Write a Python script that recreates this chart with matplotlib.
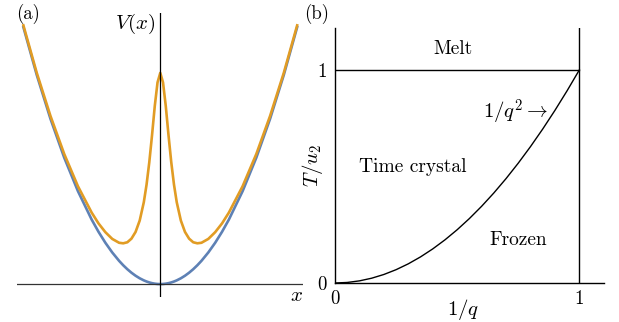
import matplotlib
matplotlib.use("Agg")
import matplotlib.pyplot as plt

plt.rcParams["font.family"] = "serif"
plt.rcParams["font.serif"] = ["cmr10", "DejaVu Serif"]
plt.rcParams["mathtext.fontset"] = "cm"
plt.rcParams["axes.formatter.use_mathtext"] = True

# (a) potential curves
x_pot = [-1.0, -0.9, -0.8, -0.7, -0.6, -0.5, -0.45, -0.4, -0.35, -0.3, -0.27,
         -0.24, -0.21, -0.18, -0.15, -0.12, -0.1, -0.08, -0.06, -0.04, -0.02,
         0.0, 0.02, 0.04, 0.06, 0.08, 0.1, 0.12, 0.15, 0.18, 0.21, 0.24, 0.27,
         0.3, 0.35, 0.4, 0.45, 0.5, 0.6, 0.7, 0.8, 0.9, 1.0]
v_plain = [1.0, 0.81, 0.64, 0.49, 0.36, 0.25, 0.2025, 0.16, 0.1225, 0.09, 0.0729,
           0.0576, 0.0441, 0.0324, 0.0225, 0.0144, 0.01, 0.0064, 0.0036, 0.0016, 0.0004,
           0.0, 0.0004, 0.0016, 0.0036, 0.0064, 0.01, 0.0144, 0.0225, 0.0324, 0.0441,
           0.0576, 0.0729, 0.09, 0.1225, 0.16, 0.2025, 0.25, 0.36, 0.49, 0.64, 0.81, 1.0]
v_bump = [1.007, 0.818, 0.651, 0.504, 0.379, 0.277, 0.235, 0.201, 0.175, 0.160, 0.158,
          0.162, 0.176, 0.202, 0.246, 0.317, 0.385, 0.472, 0.577, 0.690, 0.781,
          0.818, 0.781, 0.690, 0.577, 0.472, 0.385, 0.317, 0.246, 0.202, 0.176,
          0.162, 0.158, 0.160, 0.175, 0.201, 0.235, 0.277, 0.379, 0.504, 0.651, 0.818, 1.007]

# (b) phase boundary T/u2 vs 1/q
inv_q = [0.0, 0.05, 0.1, 0.15, 0.2, 0.25, 0.3, 0.35, 0.4, 0.45, 0.5,
         0.55, 0.6, 0.65, 0.7, 0.75, 0.8, 0.85, 0.9, 0.95, 1.0]
t_boundary = [0.0, 0.0025, 0.01, 0.0225, 0.04, 0.0625, 0.09, 0.1225, 0.16, 0.2025, 0.25,
              0.3025, 0.36, 0.4225, 0.49, 0.5625, 0.64, 0.7225, 0.81, 0.9025, 1.0]
t_melt = 1.0
q_edge = 1.0

W, H = 619, 322
fig = plt.figure(figsize=(W / 100, H / 100), dpi=100)

# panel (a)
ax1 = fig.add_axes([17 / W, 25 / H, 286 / W, 284 / H])
ax1.plot(x_pot, v_plain, color="#5e81b5", lw=1.9, solid_capstyle="butt")
ax1.plot(x_pot, v_bump, color="#e19c24", lw=1.9, solid_capstyle="butt")
ax1.axhline(0, color="#333333", lw=0.9)
ax1.axvline(0, color="black", lw=0.9)
ax1.set_xlim(-1.044, 1.04)
ax1.set_ylim(-0.05, 1.05)
ax1.axis("off")

# panel (b)
ax2 = fig.add_axes([335 / W, 39 / H, 269 / W, 255 / H])
ax2.plot(inv_q, t_boundary, color="black", lw=1.0)
ax2.plot([0, q_edge], [t_melt, t_melt], color="black", lw=1.0)
ax2.axvline(q_edge, color="black", lw=1.0)
ax2.set_xlim(0, 1.101)
ax2.set_ylim(0, 1.197)
for s in ["top", "right"]:
    ax2.spines[s].set_visible(False)
for s in ["left", "bottom"]:
    ax2.spines[s].set_linewidth(1.0)
ax2.set_xticks([0, 1])
ax2.set_yticks([0, 1])
ax2.set_xticklabels(["0", "1"])
ax2.set_yticklabels(["0", "1"])
ax2.tick_params(length=0, labelsize=13.5)
ax2.tick_params(axis="x", pad=5)
ax2.tick_params(axis="y", pad=6)

ax2.text(0.485, 1.10, "Melt", fontsize=14, ha="center", va="center")
ax2.text(0.32, 0.545, "Time crystal", fontsize=14, ha="center", va="center")
ax2.text(0.75, 0.2, "Frozen", fontsize=14, ha="center", va="center")
ax2.text(0.875, 0.80, r"$1/q^2 \rightarrow$", fontsize=15, ha="right", va="center")


def ftext(px, py, s, **kw):
    fig.text(px / W, 1 - py / H, s, **kw)


ftext(16, 14, "(a)", fontsize=13.5, ha="left", va="center")
ftext(304, 14, "(b)", fontsize=13.5, ha="left", va="center")
ftext(155, 24, r"$V(x)$", fontsize=15, ha="right", va="center")
ftext(296, 296, r"$x$", fontsize=15, ha="center", va="center")
ftext(463, 309, r"$1/q$", fontsize=15, ha="center", va="center")
ftext(312, 165, r"$T/u_2$", fontsize=15, ha="center", va="center", rotation=90)

fig.savefig("out.png", dpi=100)
